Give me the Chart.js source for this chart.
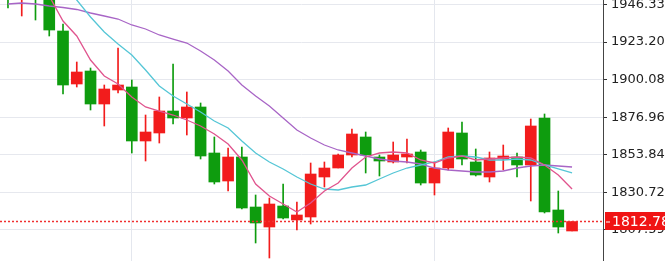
<!DOCTYPE html>
<html>
<head>
<meta charset="utf-8">
<script src="https://cdn.jsdelivr.net/npm/chart.js@4"></script>
<style>
  html, body { margin: 0; padding: 0; background: #fff; }
  #wrap { width: 665px; height: 261px; }
</style>
</head>
<body>
<div id="wrap"><canvas id="priceChart"></canvas></div>
<script>
// candle data (oldest first)
var opens  = [1961.41, 1950.33, 1956.48, 1952.79, 1930.03, 1897.42, 1905.41, 1885.11, 1893.73, 1895.57, 1862.35, 1867.27, 1880.80, 1876.50, 1883.27, 1854.96, 1837.73, 1852.50, 1821.73, 1809.43, 1822.35, 1813.74, 1815.59, 1840.20, 1845.73, 1853.73, 1864.81, 1852.50, 1849.43, 1852.50, 1855.58, 1836.50, 1845.73, 1867.27, 1849.43, 1840.20, 1851.27, 1852.50, 1847.58, 1876.50, 1819.90, 1806.97];
var highs  = [1964.48, 1960.17, 1958.94, 1955.25, 1934.33, 1910.95, 1907.26, 1896.80, 1919.57, 1899.88, 1878.34, 1889.42, 1909.72, 1892.50, 1885.73, 1864.81, 1858.04, 1858.65, 1829.12, 1827.27, 1835.89, 1824.81, 1848.81, 1849.43, 1854.35, 1869.73, 1867.88, 1853.73, 1861.73, 1863.58, 1856.81, 1849.43, 1870.35, 1874.04, 1857.43, 1855.58, 1859.88, 1854.96, 1875.88, 1878.96, 1831.58, 1812.78];
var lows   = [1944.18, 1939.26, 1936.79, 1926.95, 1891.26, 1895.57, 1881.42, 1871.58, 1891.88, 1854.96, 1850.04, 1861.11, 1872.81, 1866.04, 1851.27, 1835.89, 1831.58, 1820.50, 1799.59, 1790.36, 1814.35, 1807.59, 1811.28, 1834.04, 1845.73, 1852.50, 1842.66, 1840.81, 1848.81, 1848.81, 1835.27, 1829.12, 1844.50, 1847.58, 1840.81, 1837.12, 1844.50, 1840.20, 1825.43, 1818.05, 1805.74, 1806.97];
var closes = [1950.95, 1957.71, 1950.95, 1930.64, 1896.80, 1904.80, 1885.11, 1894.34, 1896.80, 1862.35, 1867.88, 1880.80, 1876.50, 1883.27, 1853.12, 1837.12, 1852.50, 1821.12, 1811.89, 1823.58, 1814.97, 1816.82, 1842.04, 1845.73, 1853.73, 1866.65, 1853.73, 1850.04, 1853.73, 1854.35, 1836.50, 1845.73, 1867.88, 1851.27, 1841.43, 1851.89, 1853.12, 1847.58, 1871.58, 1818.66, 1809.43, 1812.78];

// moving averages (pink = fast, cyan = medium, purple = slow)
var maFast = [1958.00, 1957.00, 1956.00, 1951.50, 1936.18, 1926.95, 1912.18, 1902.34, 1897.42, 1889.42, 1883.27, 1880.80, 1878.34, 1875.27, 1871.58, 1866.65, 1860.50, 1850.66, 1835.89, 1828.51, 1823.58, 1818.66, 1824.20, 1831.58, 1836.50, 1845.73, 1852.50, 1854.96, 1855.58, 1854.96, 1850.66, 1848.81, 1851.89, 1853.12, 1850.66, 1851.27, 1851.89, 1852.50, 1851.89, 1847.58, 1841.43, 1832.81];
var maMid  = [1990.00, 1982.00, 1975.00, 1967.56, 1958.33, 1949.10, 1938.64, 1929.41, 1922.03, 1915.26, 1906.03, 1896.19, 1890.03, 1885.11, 1880.19, 1874.65, 1870.35, 1862.35, 1854.96, 1849.43, 1845.12, 1840.20, 1835.89, 1832.81, 1832.20, 1834.04, 1835.27, 1838.97, 1842.66, 1845.73, 1847.58, 1849.43, 1852.50, 1853.12, 1852.50, 1850.66, 1850.66, 1851.27, 1850.66, 1847.58, 1845.12, 1842.66];
var maSlow = [1946.64, 1947.25, 1946.64, 1945.41, 1944.49, 1943.26, 1941.10, 1939.26, 1937.41, 1933.72, 1931.26, 1927.57, 1925.10, 1922.64, 1917.72, 1912.18, 1905.42, 1896.80, 1890.03, 1883.88, 1876.50, 1869.12, 1864.19, 1859.88, 1856.81, 1854.96, 1853.12, 1851.27, 1850.04, 1849.43, 1848.19, 1845.73, 1844.50, 1843.89, 1843.27, 1843.27, 1843.89, 1845.73, 1846.96, 1847.58, 1846.96, 1846.35];

var yTicks = [1946.33, 1923.20, 1900.08, 1876.96, 1853.84, 1830.72, 1807.59];
var xGridAt = [9, 31];   // candles with a vertical grid line through them

var upColor = '#f21c1c';
var downColor = '#0e9c0e';

var bodies = [], wicks = [], candleColors = [];
for (var i = 0; i < closes.length; i++) {
    bodies.push({ x: i, y: [opens[i], closes[i]] });
    wicks.push({ x: i, y: [lows[i], highs[i]] });
    candleColors.push(closes[i] >= opens[i] ? upColor : downColor);
}
function linePoints(arr) {
    return arr.map(function (v, i) { return { x: i, y: v }; });
}

// dotted last-price line + red price label on the axis
var lastPricePlugin = {
    id: 'lastPrice',
    afterDraw: function (chart) {
        var ctx = chart.ctx;
        var area = chart.chartArea;
        var last = closes[closes.length - 1];
        var y = Math.round(chart.scales.y.getPixelForValue(last)) - 0.5;
        ctx.save();
        ctx.strokeStyle = '#f03030';
        ctx.lineWidth = 1.5;
        ctx.setLineDash([2, 2]);
        ctx.beginPath();
        ctx.moveTo(area.left, y);
        ctx.lineTo(area.right, y);
        ctx.stroke();
        ctx.setLineDash([]);
        ctx.lineWidth = 1;
        ctx.fillStyle = '#f01414';
        ctx.fillRect(area.right + 2, y - 9.5, 70, 18);
        ctx.strokeStyle = '#fff';
        ctx.beginPath();
        ctx.moveTo(area.right + 3, y + 0.5);
        ctx.lineTo(area.right + 7, y + 0.5);
        ctx.stroke();
        ctx.fillStyle = '#fff';
        ctx.font = '14px "DejaVu Sans"';
        ctx.textBaseline = 'middle';
        ctx.fillText(last.toFixed(2), area.right + 9, y + 1);
        ctx.restore();
    }
};

var ctx = document.getElementById('priceChart').getContext('2d');
var priceChart = new Chart(ctx, {
    type: 'bar',
    data: {
        datasets: [
            { type: 'line', data: linePoints(maFast), borderColor: '#e0548e', borderWidth: 1.3, pointRadius: 0, tension: 0, order: 0 },
            { type: 'line', data: linePoints(maMid), borderColor: '#55c6d6', borderWidth: 1.3, pointRadius: 0, tension: 0, order: 0 },
            { type: 'line', data: linePoints(maSlow), borderColor: '#a865c6', borderWidth: 1.3, pointRadius: 0, tension: 0, order: 0 },
            { data: bodies, backgroundColor: candleColors, barThickness: 11, grouped: false, order: 1 },
            { data: wicks, backgroundColor: candleColors, barThickness: 1, grouped: false, order: 2 }
        ]
    },
    options: {
        responsive: true,
        maintainAspectRatio: false,
        animation: false,
        layout: { padding: 0 },
        plugins: { legend: { display: false }, tooltip: { enabled: false } },
        scales: {
            x: {
                type: 'linear',
                min: -0.58,
                max: 43.25,
                offset: false,
                afterBuildTicks: function (scale) {
                    scale.ticks = xGridAt.map(function (v) { return { value: v }; });
                },
                afterFit: function (scale) {
                    scale.height = 0;
                    scale.paddingLeft = 0;
                    scale.paddingRight = 0;
                },
                ticks: { display: false },
                grid: { color: '#e4e7ee', drawTicks: false, offset: false },
                border: { display: false }
            },
            y: {
                position: 'right',
                min: 1788.51,
                max: 1949.10,
                afterBuildTicks: function (scale) {
                    scale.ticks = yTicks.map(function (v) { return { value: v }; });
                },
                afterFit: function (scale) {
                    scale.width = 62;
                    scale.paddingTop = 0;
                    scale.paddingBottom = 0;
                },
                ticks: {
                    color: '#222',
                    padding: 4,
                    font: { family: 'DejaVu Sans', size: 13 },
                    callback: function (v) { return v.toFixed(2); }
                },
                grid: { color: '#e6e8ee', tickColor: '#333', tickLength: 4 },
                border: { color: '#444', width: 1 }
            }
        }
    },
    plugins: [lastPricePlugin]
});
</script>
</body>
</html>
